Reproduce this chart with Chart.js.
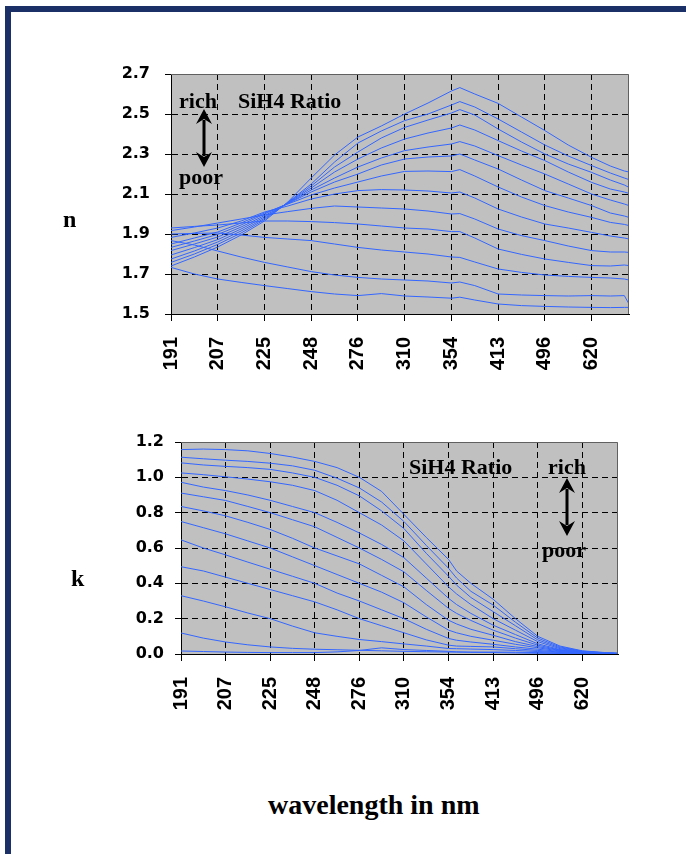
<!DOCTYPE html>
<html>
<head>
<meta charset="utf-8">
<script src="https://cdn.jsdelivr.net/npm/chart.js@4.4.0/dist/chart.umd.min.js"></script>
<style>
  body { margin: 0; background: #fff; }
  #page { position: relative; width: 686px; height: 854px; overflow: hidden; background: #fff; }
  .bar { position: absolute; background: #1c3068; }
  canvas { position: absolute; left: 0; }
  .lbl { position: absolute; font-family: "Liberation Serif", "Times New Roman", serif; font-weight: bold; color: #000; white-space: nowrap; line-height: 1; }
</style>
</head>
<body>
<div id="page">
  <div class="bar" style="left:5px;top:6px;width:681px;height:6px"></div>
  <div class="bar" style="left:5px;top:6px;width:6px;height:848px"></div>
  <canvas id="nChart" width="686" height="400" style="top:0"></canvas>
  <canvas id="kChart" width="686" height="360" style="top:400px"></canvas>
  <div class="lbl" style="left:63px;top:207px;font-size:24px">n</div>
  <div class="lbl" style="left:71px;top:566px;font-size:24px">k</div>
  <div class="lbl" style="left:268px;top:791px;font-size:28px">wavelength in nm</div>
</div>
<script>
// photon energy of each sample (eV), axis runs from 6.5 down to 1.6
var photonEv = [6.5, 6.25, 6.0, 5.75, 5.5, 5.25, 5.0, 4.75, 4.5, 4.25, 4.0, 3.75, 3.5, 3.41, 3.25, 3.0, 2.75, 2.5, 2.25, 2.0, 1.8, 1.65, 1.6];

// wavelength tick labels (nm) and where they sit in eV
var tickEv = [6.5, 6.0, 5.5, 5.0, 4.5, 4.0, 3.5, 3.0, 2.5, 2.0];
var tickLabels = ['191', '207', '225', '248', '276', '310', '354', '413', '496', '620'];

// refractive index n, SiH4 rich -> poor
var n1  = [1.74, 1.785, 1.835, 1.895, 1.965, 2.06, 2.18, 2.295, 2.385, 2.44, 2.50, 2.555, 2.615, 2.632, 2.60, 2.553, 2.485, 2.417, 2.345, 2.283, 2.24, 2.215, 2.21];
var n2  = [1.758, 1.80, 1.848, 1.905, 1.972, 2.058, 2.15, 2.26, 2.355, 2.415, 2.467, 2.50, 2.545, 2.562, 2.535, 2.475, 2.41, 2.345, 2.29, 2.242, 2.205, 2.18, 2.172];
var n3  = [1.775, 1.815, 1.86, 1.915, 1.978, 2.056, 2.14, 2.235, 2.31, 2.38, 2.433, 2.47, 2.505, 2.522, 2.495, 2.425, 2.36, 2.30, 2.25, 2.208, 2.17, 2.145, 2.133];
var n4  = [1.795, 1.832, 1.872, 1.925, 1.985, 2.055, 2.13, 2.21, 2.275, 2.33, 2.375, 2.405, 2.43, 2.445, 2.42, 2.367, 2.315, 2.267, 2.21, 2.158, 2.125, 2.11, 2.103];
var n5  = [1.817, 1.85, 1.885, 1.935, 1.992, 2.053, 2.12, 2.18, 2.235, 2.28, 2.317, 2.335, 2.35, 2.362, 2.34, 2.292, 2.245, 2.20, 2.15, 2.10, 2.07, 2.05, 2.042];
var n6  = [1.833, 1.865, 1.898, 1.945, 2.0, 2.052, 2.11, 2.16, 2.20, 2.245, 2.275, 2.285, 2.29, 2.30, 2.27, 2.225, 2.17, 2.117, 2.08, 2.042, 2.005, 1.99, 1.983];
var n7  = [1.85, 1.88, 1.91, 1.955, 2.005, 2.05, 2.095, 2.13, 2.16, 2.19, 2.213, 2.215, 2.212, 2.222, 2.19, 2.135, 2.085, 2.042, 2.01, 1.983, 1.958, 1.948, 1.942];
var n8  = [1.883, 1.905, 1.93, 1.965, 2.01, 2.04, 2.075, 2.10, 2.117, 2.122, 2.12, 2.115, 2.105, 2.11, 2.08, 2.025, 1.985, 1.95, 1.93, 1.908, 1.89, 1.88, 1.875];
var n9  = [1.917, 1.935, 1.955, 1.975, 1.995, 2.012, 2.028, 2.04, 2.035, 2.03, 2.025, 2.015, 2.0, 2.002, 1.975, 1.925, 1.892, 1.867, 1.84, 1.817, 1.81, 1.81, 1.808];
var n10 = [1.93, 1.938, 1.945, 1.955, 1.965, 1.965, 1.962, 1.957, 1.95, 1.94, 1.93, 1.925, 1.912, 1.912, 1.88, 1.825, 1.798, 1.775, 1.758, 1.742, 1.74, 1.745, 1.742];
var n11 = [1.90, 1.903, 1.905, 1.895, 1.883, 1.875, 1.867, 1.85, 1.833, 1.82, 1.81, 1.80, 1.785, 1.783, 1.76, 1.725, 1.708, 1.695, 1.688, 1.683, 1.68, 1.675, 1.67];
var n12 = [1.867, 1.845, 1.815, 1.785, 1.758, 1.735, 1.712, 1.695, 1.683, 1.675, 1.67, 1.665, 1.655, 1.66, 1.642, 1.60, 1.595, 1.592, 1.59, 1.592, 1.59, 1.592, 1.55];
var n13 = [1.733, 1.70, 1.675, 1.658, 1.642, 1.627, 1.612, 1.60, 1.592, 1.602, 1.59, 1.585, 1.579, 1.584, 1.57, 1.55, 1.542, 1.538, 1.535, 1.533, 1.532, 1.533, 1.533];

// extinction coefficient k, SiH4 rich -> poor
var k1  = [1.157, 1.16, 1.157, 1.15, 1.135, 1.115, 1.09, 1.055, 1.0, 0.92, 0.79, 0.66, 0.535, 0.47, 0.40, 0.31, 0.20, 0.10, 0.045, 0.018, 0.01, 0.005, 0.004];
var k2  = [1.114, 1.105, 1.097, 1.09, 1.08, 1.065, 1.04, 0.995, 0.94, 0.86, 0.75, 0.615, 0.485, 0.43, 0.355, 0.277, 0.18, 0.09, 0.04, 0.016, 0.009, 0.005, 0.004];
var k3  = [1.082, 1.07, 1.062, 1.055, 1.045, 1.025, 1.0, 0.955, 0.895, 0.81, 0.71, 0.57, 0.44, 0.39, 0.32, 0.24, 0.16, 0.08, 0.035, 0.015, 0.008, 0.005, 0.004];
var k4  = [1.025, 1.015, 1.003, 0.99, 0.975, 0.955, 0.925, 0.87, 0.80, 0.73, 0.64, 0.51, 0.38, 0.34, 0.28, 0.20, 0.135, 0.07, 0.03, 0.013, 0.007, 0.004, 0.003];
var k5  = [0.972, 0.945, 0.925, 0.90, 0.87, 0.835, 0.80, 0.745, 0.685, 0.62, 0.545, 0.43, 0.315, 0.28, 0.23, 0.163, 0.11, 0.058, 0.025, 0.012, 0.006, 0.004, 0.003];
var k6  = [0.911, 0.89, 0.869, 0.835, 0.80, 0.76, 0.72, 0.66, 0.60, 0.535, 0.465, 0.36, 0.258, 0.23, 0.19, 0.135, 0.09, 0.05, 0.022, 0.01, 0.005, 0.003, 0.002];
var k7  = [0.835, 0.81, 0.782, 0.745, 0.705, 0.655, 0.60, 0.555, 0.51, 0.445, 0.38, 0.28, 0.191, 0.17, 0.14, 0.106, 0.07, 0.042, 0.02, 0.009, 0.005, 0.003, 0.002];
var k8  = [0.75, 0.715, 0.68, 0.64, 0.60, 0.55, 0.50, 0.45, 0.40, 0.35, 0.29, 0.21, 0.135, 0.12, 0.10, 0.078, 0.055, 0.035, 0.017, 0.008, 0.004, 0.003, 0.002];
var k9  = [0.646, 0.60, 0.561, 0.52, 0.48, 0.44, 0.40, 0.345, 0.30, 0.25, 0.20, 0.14, 0.088, 0.078, 0.068, 0.055, 0.04, 0.027, 0.014, 0.007, 0.004, 0.002, 0.002];
var k10 = [0.494, 0.47, 0.435, 0.40, 0.365, 0.33, 0.295, 0.25, 0.20, 0.16, 0.12, 0.08, 0.05, 0.045, 0.043, 0.04, 0.03, 0.02, 0.011, 0.006, 0.003, 0.002, 0.001];
var k11 = [0.33, 0.30, 0.267, 0.232, 0.20, 0.158, 0.12, 0.10, 0.082, 0.07, 0.057, 0.045, 0.031, 0.03, 0.028, 0.025, 0.02, 0.014, 0.009, 0.005, 0.003, 0.002, 0.001];
var k12 = [0.119, 0.09, 0.068, 0.052, 0.04, 0.032, 0.027, 0.024, 0.021, 0.018, 0.015, 0.013, 0.011, 0.011, 0.01, 0.011, 0.01, 0.008, 0.006, 0.004, 0.002, 0.001, 0.001];
var k13 = [0.017, 0.014, 0.011, 0.009, 0.008, 0.008, 0.008, 0.012, 0.02, 0.035, 0.025, 0.02, 0.015, 0.012, 0.01, 0.008, 0.006, 0.004, 0.003, 0.004, 0.002, 0.001, 0];

var nCurves = [n1, n2, n3, n4, n5, n6, n7, n8, n9, n10, n11, n12, n13];
var kCurves = [k1, k2, k3, k4, k5, k6, k7, k8, k9, k10, k11, k12, k13];

var lineBlue = '#3366ff';
var plotGray = '#c0c0c0';

function makeDatasets(curves) {
	return curves.map(function(arr) {
		return {
			data: arr.map(function(v, i) { return { x: photonEv[i], y: v }; }),
			borderColor: lineBlue,
			borderWidth: 1,
			pointRadius: 0,
			fill: false,
			tension: 0
		};
	});
}

// gray plot area + frame
var plotBackground = {
	id: 'plotBackground',
	beforeDraw: function(chart) {
		var a = chart.chartArea, ctx = chart.ctx;
		ctx.save();
		ctx.fillStyle = plotGray;
		ctx.fillRect(a.left, a.top, a.right - a.left, a.bottom - a.top);
		ctx.restore();
	},
	afterDraw: function(chart) {
		var a = chart.chartArea, ctx = chart.ctx;
		ctx.save();
		ctx.strokeStyle = '#606060';
		ctx.lineWidth = 1;
		ctx.beginPath();
		ctx.moveTo(a.left, a.top + 0.5);
		ctx.lineTo(a.right - 0.5, a.top + 0.5);
		ctx.lineTo(a.right - 0.5, a.bottom);
		ctx.stroke();
		ctx.restore();
	}
};

function drawArrow(ctx, x, y1, y2) {
	var headL = 15, headW = 8;
	ctx.save();
	ctx.fillStyle = '#000';
	ctx.strokeStyle = '#000';
	ctx.lineWidth = 3;
	ctx.beginPath();
	ctx.moveTo(x, y1 + headL - 4);
	ctx.lineTo(x, y2 - headL + 4);
	ctx.stroke();
	ctx.beginPath();
	ctx.moveTo(x, y1);
	ctx.lineTo(x + headW, y1 + headL);
	ctx.lineTo(x, y1 + headL - 5);
	ctx.lineTo(x - headW, y1 + headL);
	ctx.closePath();
	ctx.fill();
	ctx.beginPath();
	ctx.moveTo(x, y2);
	ctx.lineTo(x + headW, y2 - headL);
	ctx.lineTo(x, y2 - headL + 5);
	ctx.lineTo(x - headW, y2 - headL);
	ctx.closePath();
	ctx.fill();
	ctx.restore();
}

// "rich / SiH4 Ratio / poor" notes, offsets from the plot corner
function notesPlugin(notes) {
	return {
		id: 'notes',
		afterDraw: function(chart) {
			var a = chart.chartArea, ctx = chart.ctx;
			ctx.save();
			ctx.fillStyle = '#000';
			ctx.font = 'bold 22px "Liberation Serif", "Times New Roman", serif';
			ctx.textBaseline = 'alphabetic';
			notes.texts.forEach(function(t) {
				ctx.fillText(t[0], a.left + t[1], a.top + t[2]);
			});
			ctx.restore();
			drawArrow(ctx, a.left + notes.arrow[0], a.top + notes.arrow[1], a.top + notes.arrow[2]);
		}
	};
}

function makeOptions(yMin, yMax, yWidth, xHeight, pad, yTick, yPad) {
	return {
		responsive: false,
		animation: false,
		layout: { padding: pad },
		plugins: { legend: { display: false }, tooltip: { enabled: false } },
		scales: {
			x: {
				type: 'linear',
				reverse: true,
				min: 1.6,
				max: 6.5,
				afterBuildTicks: function(scale) {
					scale.ticks = tickEv.map(function(v) { return { value: v }; });
				},
				afterFit: function(scale) { scale.height = xHeight; },
				grid: { color: '#000', tickColor: '#000', tickLength: 7, tickBorderDash: [], lineWidth: 1 },
				border: { color: '#000', width: 1, dash: [6, 4] },
				ticks: {
					autoSkip: false,
					minRotation: 90,
					maxRotation: 90,
					padding: 16,
					color: '#000',
					font: { family: '"Liberation Sans", Arial, sans-serif', weight: 'bold', size: 20 },
					callback: function(value) { return tickLabels[tickEv.indexOf(value)]; }
				}
			},
			y: {
				min: yMin,
				max: yMax,
				afterFit: function(scale) { scale.width = yWidth; },
				grid: {
					color: function(c) { return (c.tick && Math.abs(c.tick.value - yMax) < 1e-6) ? 'rgba(0,0,0,0)' : '#000'; },
					tickColor: '#000',
					tickLength: yTick,
					tickBorderDash: [],
					lineWidth: 1
				},
				border: { color: '#000', width: 1, dash: [6, 4] },
				ticks: {
					stepSize: 0.2,
					padding: yPad,
					color: '#000',
					font: { family: '"DejaVu Sans", sans-serif', weight: 'bold', size: 16 },
					callback: function(value) { return value.toFixed(1); }
				}
			}
		}
	};
}

// n chart
var nCtx = document.getElementById('nChart').getContext('2d');
var nChart = new Chart(nCtx, {
	type: 'line',
	data: { datasets: makeDatasets(nCurves) },
	options: makeOptions(1.5, 2.7, 171, 86, { left: 0, top: 74, right: 57, bottom: 0 }, 6, 15),
	plugins: [plotBackground, notesPlugin({
		texts: [['rich', 8, 34], ['SiH4 Ratio', 67, 34], ['poor', 8, 110]],
		arrow: [33, 35, 93]
	})]
});

// k chart
var kCtx = document.getElementById('kChart').getContext('2d');
var kChart = new Chart(kCtx, {
	type: 'line',
	data: { datasets: makeDatasets(kCurves) },
	options: makeOptions(0, 1.2, 181, 106, { left: 0, top: 42, right: 68, bottom: 0 }, 6, 11),
	plugins: [plotBackground, notesPlugin({
		texts: [['SiH4 Ratio', 228, 32], ['rich', 367, 32], ['poor', 361, 115]],
		arrow: [386, 36, 94]
	})]
});
</script>
</body>
</html>
